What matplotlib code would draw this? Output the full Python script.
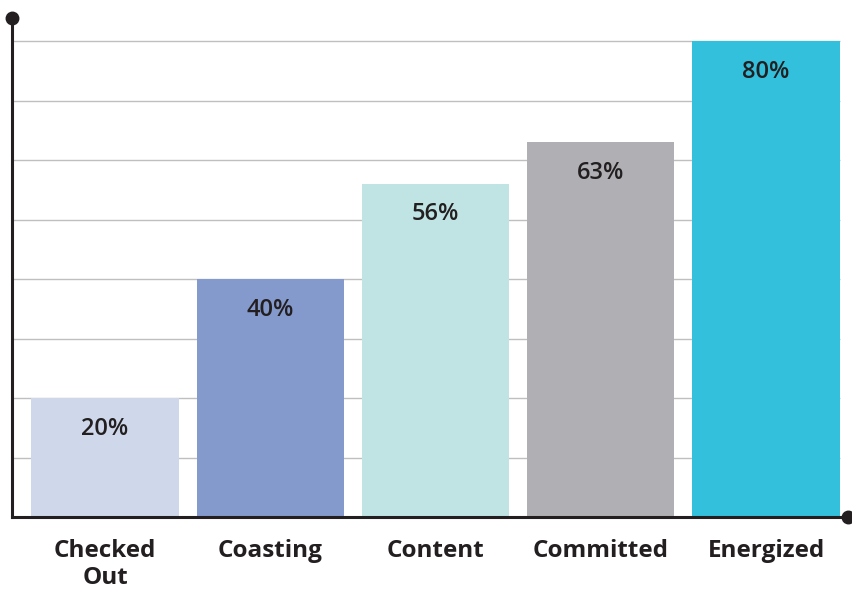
import matplotlib
matplotlib.use("Agg")
import matplotlib.pyplot as plt

categories = ["Checked\nOut", "Coasting", "Content", "Committed", "Energized"]
values = [20, 40, 56, 63, 80]
colors = ["#cfd8ea", "#8499cc", "#c0e4e4", "#b0afb4", "#33c0dc"]
grid_levels = [10, 20, 30, 40, 50, 60, 70, 80]

INK = "#231f20"
plt.rcParams["font.family"] = ["Open Sans", "DejaVu Sans"]

fig = plt.figure(figsize=(8.52, 5.91), dpi=100)
ax = fig.add_axes([12 / 852, 74 / 591, 836 / 852, 499 / 591])

x = list(range(len(values)))
width = 0.89
ax.set_xlim(-0.563, len(values) - 1 + 0.496)
ax.set_ylim(0, 83.9)

# gridlines stop at the right edge of the last bar
ax.hlines(grid_levels, -0.563, len(values) - 1 + width / 2,
          colors="#bfbfbf", linewidth=1, zorder=1)

ax.bar(x, values, width=width, color=colors, zorder=2)

for xi, v in zip(x, values):
    ax.annotate(f"{v}%", (xi, v), xytext=(0, -22), textcoords="offset points",
                ha="center", va="center", fontsize=17, fontweight="semibold",
                color=INK, zorder=3)

for xi, lab in zip(x, categories):
    ax.annotate(lab, (xi, 0), xytext=(0, -16), textcoords="offset points",
                ha="center", va="top", fontsize=17.5, fontweight="bold",
                color=INK, linespacing=1.15, annotation_clip=False)

for s in ["top", "right"]:
    ax.spines[s].set_visible(False)
for s in ["left", "bottom"]:
    ax.spines[s].set_color(INK)
    ax.spines[s].set_linewidth(2.2)
    ax.spines[s].set_zorder(4)
ax.set_xticks([])
ax.set_yticks([])

# end dots on the axes
ax.plot([0], [1], "o", color=INK, markersize=9, transform=ax.transAxes, clip_on=False, zorder=5)
ax.plot([1], [0], "o", color=INK, markersize=9, transform=ax.transAxes, clip_on=False, zorder=5)

fig.savefig("out.png", dpi=100)
